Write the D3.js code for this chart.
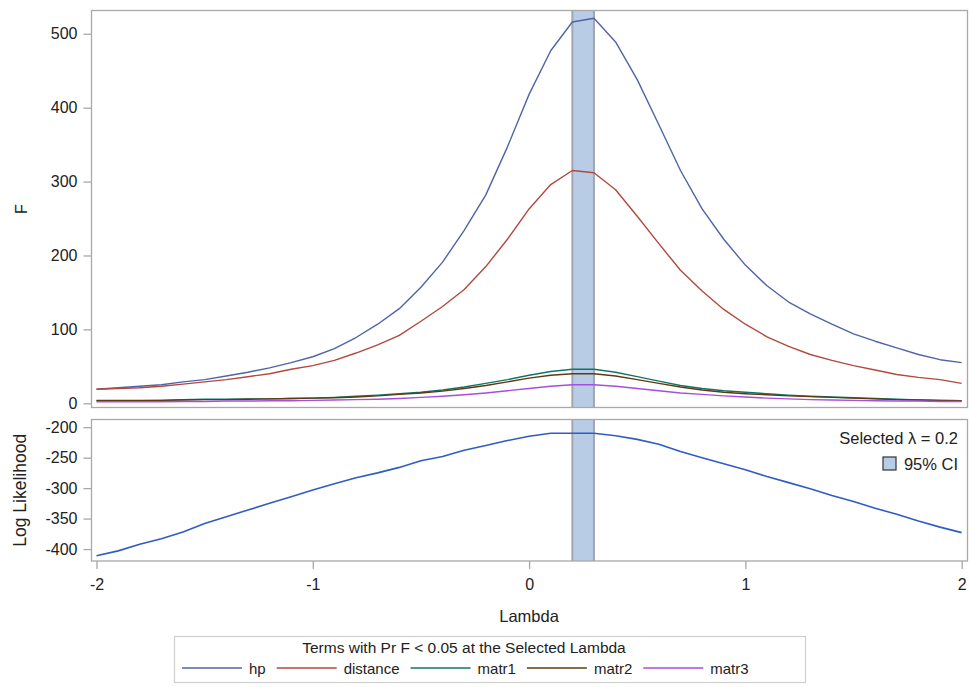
<!DOCTYPE html>
<html>
<head>
<meta charset="utf-8">
<script src="https://cdn.jsdelivr.net/npm/d3@7"></script>
<style>
  body { margin: 0; background: #fff; }
  svg text { font-family: "Liberation Sans", Arial, Helvetica, sans-serif; fill: #222; }
</style>
</head>
<body>
<svg id="chart" width="970" height="687"></svg>
<script>
// Box-Cox lambda grid
const lambda = [-2.0,-1.9,-1.8,-1.7,-1.6,-1.5,-1.4,-1.3,-1.2,-1.1,-1.0,-0.9,-0.8,-0.7,-0.6,-0.5,-0.4,-0.3,-0.2,-0.1,
                0.0,0.1,0.2,0.3,0.4,0.5,0.6,0.7,0.8,0.9,1.0,1.1,1.2,1.3,1.4,1.5,1.6,1.7,1.8,1.9,2.0];

// F statistics per term
const hp = [19,21,23,25,29,32,37,42,48,55,63,74,89,107,128,157,191,234,282,347,
            418,477,516,521,489,438,377,315,263,222,187,159,137,121,107,94,84,75,66,59,55];
const distance = [19,20,21,23,26,29,32,36,40,46,51,58,68,79,92,111,131,154,185,222,
                  263,296,315,312,289,253,216,180,152,127,107,90,77,66,58,51,45,39,35,32,27];
const matr1 = [3.5,3.5,3.5,4,5,5.5,5.5,6,6,6.5,7,8,9.5,11,13,15,18,22,27,32,
               38,43,46,46,42,36,30,24,20,17,15,13,11,9.5,8.5,7.5,6.5,5.5,4.5,4,3.5];
const matr2 = [4,4,4,4,4.5,5,5,5.5,6,6.5,7,7.5,8.5,10,12,14,16.5,20,24,29,
               34,38,40,40,37,32,27,22,18,15,13,11.5,10,9,8,7,6,5,4.5,4,3.5];
const matr3 = [2,2,2,2,2.5,2.5,3,3,3.5,3.5,4,4.5,5,5.5,6.5,8,9.5,11.5,14,17,
               20,23,25,25,23,20,17,14,12,10,8.5,7,6,5,4.5,4,3.5,3,3,2.5,2.5];

// Log likelihood per lambda
const loglik = [-411,-403,-392,-383,-372,-358,-347,-336,-325,-314,-303,-293,-283,-275,-266,-255,-248,-238,-230,-222,
                -215,-210,-210,-210,-214,-220,-228,-240,-250,-260,-270,-281,-291,-301,-312,-322,-333,-343,-354,-364,-373];

const selectedLambda = 0.2;
const ciLow = 0.2, ciHigh = 0.3;

const termNames = ["hp", "distance", "matr1", "matr2", "matr3"];
const termSeries = [hp, distance, matr1, matr2, matr3];
const termColors = ["#5063a8", "#b04a3e", "#127468", "#5e3a10", "#a64ee0"];

const fTicks = [0, 100, 200, 300, 400, 500];
const llTicks = [-200, -250, -300, -350, -400];
const lambdaTicks = [-2, -1, 0, 1, 2];

const svg = d3.select("#chart");

const left = 91.5, right = 967.5;
const top1 = 10.5, bot1 = 407.5;
const top2 = 419.5, bot2 = 561;

const x = d3.scaleLinear().domain([-2.0231, 2.027]).range([left, right]);
const yF = d3.scaleLinear().domain([-5.7, 531.5]).range([bot1, top1]);
const yL = d3.scaleLinear().domain([-419.6, -187.4]).range([bot2, top2]);

const frameColor = "#a8a8ac";
const tickFont = 16;

// confidence band in both panels
[[top1, bot1], [top2, bot2]].forEach(([t, b]) => {
  svg.append("rect")
    .attr("x", x(ciLow)).attr("y", t)
    .attr("width", x(ciHigh) - x(ciLow)).attr("height", b - t)
    .attr("fill", "#b9cce5");
  [ciLow, ciHigh].forEach(v => {
    svg.append("line")
      .attr("x1", x(v)).attr("x2", x(v)).attr("y1", t).attr("y2", b)
      .attr("stroke", "#a2a6b0").attr("stroke-width", 2);
  });
});

// F curves
const lineF = d3.line().x((d, i) => x(lambda[i])).y(d => yF(d));
termSeries.forEach((s, k) => {
  svg.append("path").datum(s)
    .attr("d", lineF)
    .attr("fill", "none")
    .attr("stroke", termColors[k])
    .attr("stroke-width", 1.4)
    .attr("stroke-linejoin", "round");
});

// log likelihood curve
const lineL = d3.line().x((d, i) => x(lambda[i])).y(d => yL(d));
svg.append("path").datum(loglik)
  .attr("d", lineL)
  .attr("fill", "none")
  .attr("stroke", "#2f5cc4")
  .attr("stroke-width", 1.6)
  .attr("stroke-linejoin", "round");

// panel frames
[[top1, bot1], [top2, bot2]].forEach(([t, b]) => {
  svg.append("rect")
    .attr("x", left).attr("y", t)
    .attr("width", right - left).attr("height", b - t)
    .attr("fill", "none").attr("stroke", frameColor).attr("stroke-width", 1.3);
});

function styleAxis(g) {
  g.select(".domain").remove();
  g.selectAll(".tick line").attr("stroke", frameColor).attr("stroke-width", 1.3);
  g.selectAll(".tick text")
    .attr("font-size", tickFont)
    .attr("font-family", "Liberation Sans, Arial, sans-serif")
    .attr("fill", "#222");
}

const plainNum = d => String(d);

svg.append("g").attr("transform", `translate(${left},0)`)
  .call(d3.axisLeft(yF).tickValues(fTicks).tickSize(8).tickPadding(6).tickFormat(plainNum))
  .call(styleAxis);

svg.append("g").attr("transform", `translate(${left},0)`)
  .call(d3.axisLeft(yL).tickValues(llTicks).tickSize(8).tickPadding(6).tickFormat(plainNum))
  .call(styleAxis);

svg.append("g").attr("transform", `translate(0,${bot2})`)
  .call(d3.axisBottom(x).tickValues(lambdaTicks).tickSize(8).tickPadding(10).tickFormat(plainNum))
  .call(styleAxis);

// axis titles
svg.append("text")
  .attr("transform", `translate(27,${(top1 + bot1) / 2}) rotate(-90)`)
  .attr("text-anchor", "middle").attr("font-size", 16).text("F");
svg.append("text")
  .attr("transform", `translate(26,${(top2 + bot2) / 2}) rotate(-90)`)
  .attr("text-anchor", "middle").attr("font-size", 17.5).text("Log Likelihood");
svg.append("text")
  .attr("x", x(0)).attr("y", 622)
  .attr("text-anchor", "middle").attr("font-size", 16.5).text("Lambda");

// inset legend
svg.append("text")
  .attr("x", 958).attr("y", 444)
  .attr("text-anchor", "end").attr("font-size", 16.5)
  .text(`Selected \u03bb = ${selectedLambda}`);
svg.append("rect")
  .attr("x", 883).attr("y", 457).attr("width", 13).attr("height", 13)
  .attr("fill", "#b9cce5").attr("stroke", "#333").attr("stroke-width", 1.2);
svg.append("text")
  .attr("x", 958).attr("y", 469.5)
  .attr("text-anchor", "end").attr("font-size", 16.5)
  .text("95% CI");

// term legend
const legend = svg.append("g");
legend.append("rect")
  .attr("x", 174.5).attr("y", 636.5).attr("width", 631).attr("height", 46)
  .attr("fill", "#fff").attr("stroke", "#cfcfcf").attr("stroke-width", 1.2);
legend.append("text")
  .attr("x", 464).attr("y", 653)
  .attr("text-anchor", "middle").attr("font-size", 15.5)
  .text("Terms with Pr F < 0.05 at the Selected Lambda");

let cx = 182;
termNames.forEach((name, k) => {
  legend.append("line")
    .attr("x1", cx).attr("x2", cx + 60).attr("y1", 668).attr("y2", 668)
    .attr("stroke", termColors[k]).attr("stroke-width", 1.4);
  const t = legend.append("text")
    .attr("x", cx + 67).attr("y", 673.5)
    .attr("font-size", 15).text(name);
  cx += 67 + t.node().getComputedTextLength() + 11;
});
</script>
</body>
</html>
